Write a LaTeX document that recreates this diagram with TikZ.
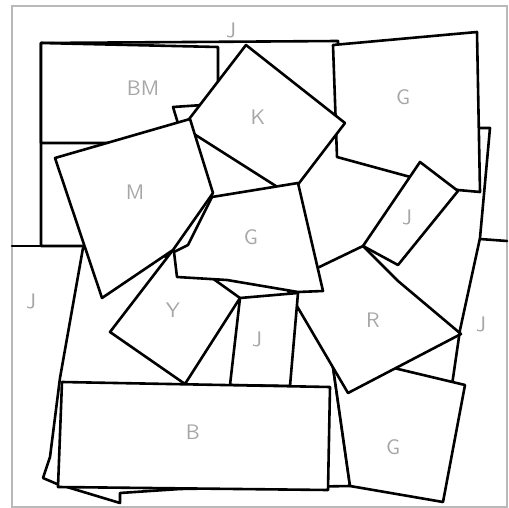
\documentclass[tikz,border=0pt]{standalone}
\usepackage{tikz}
\tikzset{
  sheet/.style={draw=black,fill=white,line width=1.3pt,line join=round},
  seam/.style={draw=black,line width=1.3pt,line cap=round},
  outline/.style={draw=gray!55,line width=0.8pt},
  tag/.style={text=gray!70,font=\sffamily\fontsize{10.5}{12}\selectfont,inner sep=0pt},
}

\begin{document}
\begin{tikzpicture}[x=0.5pt,y=-0.5pt]
  \useasboundingbox (0,0) rectangle (509,508);
  \fill[white] (0,0) rectangle (509,508);
  %% outer frame
  \draw[outline] (12,6) rectangle (507,507);

  %% back sheets
  \filldraw[sheet] (41,43) -- (338,41) -- (338,192) -- (290,194) -- (214,199)
                   -- (150,205) -- (83,246) -- (41,246) -- cycle;
  \draw[seam] (12,246) -- (41,246);
  \filldraw[sheet] (41,43) -- (218,47) -- (218,120) -- (150,140) -- (110,143)
                   -- (41,143) -- cycle;                          % BM
  \filldraw[sheet] (173,107) -- (203,105) -- (205,125) -- (180,130) -- cycle;
  \filldraw[sheet] (285,127) -- (490,128) -- (480,238) -- (460,330) -- (452,385)
                   -- (440,460) -- (300,440) -- cycle;
  \draw[seam] (480,239) -- (507,241);
  \filldraw[sheet] (83,248) -- (180,258) -- (322,290) -- (350,486) -- (180,489)
                   -- (120,493) -- (120,503) -- (57,484) -- (43,478) -- (50,457)
                   -- (60,378) -- cycle;

  %% middle sheets
  \filldraw[sheet] (331,353) -- (465,385) -- (443,502) -- (350,486) -- cycle;  % G
  \filldraw[sheet] (284,284) -- (363,246) -- (398,281) -- (461,334)
                   -- (348,393) -- cycle;                         % R
  \filldraw[sheet] (333,45) -- (477,32) -- (480,192) -- (458,190)
                   -- (337,157) -- cycle;                         % G
  \filldraw[sheet] (246,45) -- (345,123) -- (290,195) -- (183,127) -- cycle;   % K
  \filldraw[sheet] (173,250) -- (240,298) -- (185,384) -- (110,332) -- cycle;  % Y
  \filldraw[sheet] (55,158) -- (190,119) -- (213,193) -- (173,250)
                   -- (102,298) -- cycle;                         % M

  %% front sheets
  \filldraw[sheet] (212,197) -- (298,183) -- (323,291) -- (298,292) -- (227,280)
                   -- (177,277) -- (174,252) -- (188,245) -- cycle;          % G
  \filldraw[sheet] (240,298) -- (298,293) -- (290,386) -- (230,385) -- cycle;  % J
  \filldraw[sheet] (420,162) -- (458,191) -- (398,265) -- (363,246) -- cycle;  % J
  \filldraw[sheet] (62,382) -- (330,387) -- (328,490) -- (58,487) -- cycle;    % B

  %% labels
  \node[tag] (ljtop)   at (231,30)  {J};
  \node[tag] (lbm)     at (143,88)  {BM};
  \node[tag] (lk)      at (258,117) {K};
  \node[tag] (lgtop)   at (403,97)  {G};
  \node[tag] (lm)      at (135,192) {M};
  \node[tag] (ljsmall) at (407,217) {J};
  \node[tag] (lgmid)   at (251,237) {G};
  \node[tag] (ljleft)  at (31,301)  {J};
  \node[tag] (ly)      at (173,310) {Y};
  \node[tag] (ljmid)   at (257,339) {J};
  \node[tag] (lr)      at (373,320) {R};
  \node[tag] (ljright) at (481,324) {J};
  \node[tag] (lb)      at (193,432) {B};
  \node[tag] (lgbr)    at (393,447) {G};
\end{tikzpicture}
\end{document}
